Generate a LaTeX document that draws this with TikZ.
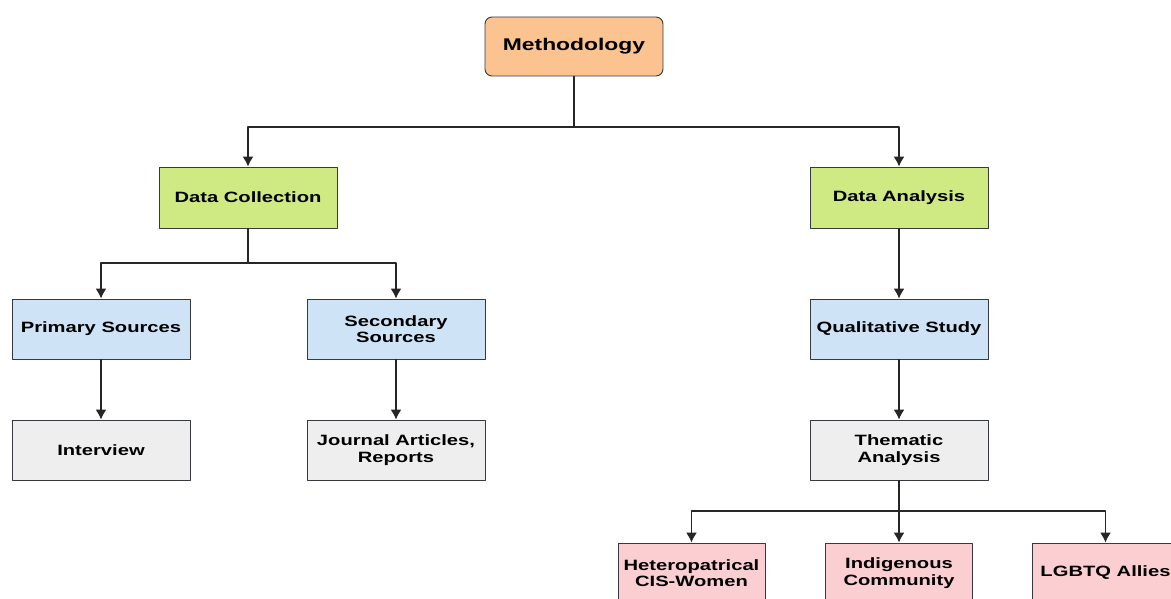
\documentclass[tikz,border=0pt]{standalone}
\usepackage{fontspec}
\setmainfont{Liberation Sans}[FakeStretch=1.35]
\usetikzlibrary{arrows.meta}
\definecolor{strokecol}{HTML}{36393D}
\definecolor{orangefill}{HTML}{FAC38F}
\definecolor{greenfill}{HTML}{CFE983}
\definecolor{bluefill}{HTML}{CFE3F7}
\definecolor{greyfill}{HTML}{EEEEEE}
\definecolor{pinkfill}{HTML}{FBCFD2}
\begin{document}
\begin{tikzpicture}[x=1bp,y=-1bp,>={Latex[length=10bp,width=11bp]},line join=bevel,
  box/.style={draw=strokecol,line width=0.9bp,minimum width=178bp,minimum height=60bp,
    align=center,inner sep=2bp,font=\fontsize{15}{16.5}\selectfont\bfseries},
  smallbox/.style={box,minimum width=147bp},
  edge/.style={->,line width=1.4bp,draw=black!85}]
  \useasboundingbox (0,0) rectangle (1171,599);
  \clip (0,0) rectangle (1171,599);
%%
  % Node: Methodology
  \node[box,fill=orangefill,rounded corners=7bp,minimum height=59bp,
    font=\fontsize{17}{20}\selectfont\bfseries] (meth) at (574,46.5) {Methodology};
  % Node: Data Collection
  \node[box,fill=greenfill,minimum height=61bp] (dcoll) at (248,197.5) {Data Collection};
  % Node: Data Analysis
  \node[box,fill=greenfill,minimum height=61bp] (danal) at (899,197.5) {Data Analysis};
  % Node: Primary Sources
  \node[box,fill=bluefill] (prim) at (101,329) {Primary Sources};
  % Node: Secondary Sources
  \node[box,fill=bluefill] (second) at (396,329) {Secondary\\Sources};
  % Node: Qualitative Study
  \node[box,fill=bluefill] (qual) at (899,329) {Qualitative Study};
  % Node: Interview
  \node[box,fill=greyfill] (interv) at (101,450) {Interview};
  % Node: Journal Articles
  \node[box,fill=greyfill] (journ) at (396,450) {Journal Articles,\\Reports};
  % Node: Thematic Analysis
  \node[box,fill=greyfill] (thema) at (899,450) {Thematic\\Analysis};
  % Node: Heteropatrical
  \node[smallbox,fill=pinkfill] (hetero) at (691.5,573) {Heteropatrical\\CIS-Women};
  % Node: Indigenous
  \node[smallbox,fill=pinkfill] (indig) at (899,573) {Indigenous\\Community};
  % Node: LGBTQ
  \node[smallbox,fill=pinkfill] (lgbtq) at (1105.5,573) {LGBTQ Allies};
%
  \coordinate (split1) at (574,127);
  \coordinate (split2) at (248,263);
  \coordinate (split3) at (899,511);
  % Edge: Methodology -> Data Collection
  \draw[edge] (meth.south) -- (split1) -| (dcoll.north);
  % Edge: Methodology -> Data Analysis
  \draw[edge] (split1) -| (danal.north);
  % Edge: Data Collection -> Primary Sources
  \draw[edge] (dcoll.south) -- (split2) -| (prim.north);
  % Edge: Data Collection -> Secondary Sources
  \draw[edge] (split2) -| (second.north);
  % Edge: Primary Sources -> Interview
  \draw[edge] (prim) -- (interv);
  % Edge: Secondary Sources -> Journal Articles
  \draw[edge] (second) -- (journ);
  % Edge: Data Analysis -> Qualitative Study
  \draw[edge] (danal) -- (qual);
  % Edge: Qualitative Study -> Thematic Analysis
  \draw[edge] (qual) -- (thema);
  % Edge: Thematic Analysis -> Heteropatrical
  \draw[edge] (thema.south) -- (split3) -| (hetero.north);
  % Edge: Thematic Analysis -> Indigenous
  \draw[edge] (split3) -- (indig);
  % Edge: Thematic Analysis -> LGBTQ
  \draw[edge] (split3) -| (lgbtq.north);
%
\end{tikzpicture}
\end{document}
